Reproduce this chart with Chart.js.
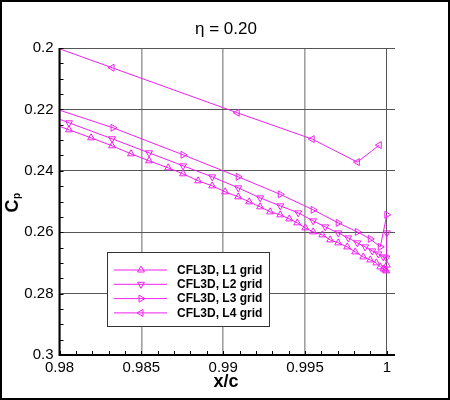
<!DOCTYPE html>
<html>
<head>
<meta charset="utf-8">
<script src="https://cdn.jsdelivr.net/npm/chart.js@4/dist/chart.umd.min.js"></script>
<style>
  html, body { margin: 0; padding: 0; background: #fff; }
  #wrap { width: 450px; height: 400px; position: relative; }
</style>
</head>
<body>
<div id="wrap"><canvas id="cpChart"></canvas></div>
<script>
// Data (x/c, Cp)
const l1X  = [0.97924, 0.98058, 0.98193, 0.98321, 0.98437, 0.98547, 0.98664, 0.98755, 0.98847, 0.98933,
              0.99012, 0.99092, 0.99159, 0.99226, 0.99287, 0.99349, 0.99404, 0.99453, 0.99502, 0.99550,
              0.99606, 0.99654, 0.99703, 0.99758, 0.99807, 0.99856, 0.99899, 0.99936, 0.99960, 0.99979,
              0.99991, 0.99997, 1.0];
const l1Cp = [0.22403, 0.22664, 0.22925, 0.23186, 0.23446, 0.23675, 0.23903, 0.24098, 0.24327, 0.24490,
              0.24685, 0.24848, 0.25011, 0.25174, 0.25337, 0.25435, 0.25566, 0.25696, 0.25859, 0.25990,
              0.26087, 0.26250, 0.26348, 0.26479, 0.26642, 0.26805, 0.26903, 0.27000, 0.27131, 0.27196,
              0.27229, 0.27261, 0.27070];

const l2X  = [0.97765, 0.98058, 0.98321, 0.98547, 0.98755, 0.98933, 0.99092, 0.99226, 0.99349, 0.99459,
              0.99550, 0.99624, 0.99703, 0.99764, 0.99820, 0.99868, 0.99911, 0.99948, 0.99979, 0.99997, 1.0];
const l2Cp = [0.21849, 0.22436, 0.22957, 0.23414, 0.23838, 0.24196, 0.24555, 0.24881, 0.25142, 0.25370,
              0.25631, 0.25827, 0.26022, 0.26185, 0.26348, 0.26479, 0.26609, 0.26707, 0.26805, 0.26837, 0.26022];

const l3X  = [0.97789, 0.98327, 0.98755, 0.99092, 0.99349, 0.99550, 0.99703, 0.99820, 0.99899, 0.99960, 1.0];
const l3Cp = [0.21653, 0.22599, 0.23479, 0.24196, 0.24767, 0.25272, 0.25696, 0.25990, 0.26218, 0.26479, 0.25435];

const l4X  = [0.97550, 0.98321, 0.99086, 0.99544, 0.99820, 0.99954];
const l4Cp = [0.19160, 0.20642, 0.22110, 0.22967, 0.23717, 0.23163];

const seriesLabels = ['CFL3D, L1 grid', 'CFL3D, L2 grid', 'CFL3D, L3 grid', 'CFL3D, L4 grid'];
const xTicks = [0.98, 0.985, 0.99, 0.995, 1];
const yTicks = [0.2, 0.22, 0.24, 0.26, 0.28, 0.3];

const FONT = '"Liberation Sans", Arial, Helvetica, sans-serif';
const PINK = '#f020f0';
const rotations = [0, 180, 90, 270];   // up, down, right, left triangles

function toPoints(xs, ys) {
    return xs.map((x, i) => ({ x: x, y: ys[i] }));
}

function makeSet(label, xs, ys, rot) {
    return {
        label: label,
        data: toPoints(xs, ys),
        borderColor: PINK,
        borderWidth: 1,
        backgroundColor: 'transparent',
        pointStyle: 'triangle',
        pointRotation: rot,
        pointRadius: 4,
        pointBorderWidth: 1,
        pointBorderColor: PINK,
        pointBackgroundColor: 'transparent',
        tension: 0
    };
}

function fmt(v) {
    return String(+(+v).toFixed(4));
}

function triangle(ctx, x, y, r, rotDeg) {
    let rad = rotDeg * Math.PI / 180;
    ctx.beginPath();
    ctx.moveTo(x + Math.sin(rad) * r, y - Math.cos(rad) * r);
    rad += 2 * Math.PI / 3;
    ctx.lineTo(x + Math.sin(rad) * r, y - Math.cos(rad) * r);
    rad += 2 * Math.PI / 3;
    ctx.lineTo(x + Math.sin(rad) * r, y - Math.cos(rad) * r);
    ctx.closePath();
    ctx.stroke();
}

// white background
const bgPlugin = {
    id: 'bg',
    beforeDraw(chart) {
        const ctx = chart.ctx;
        ctx.save();
        ctx.fillStyle = '#fff';
        ctx.fillRect(0, 0, chart.width, chart.height);
        ctx.restore();
    }
};

// axes lines, minor ticks, titles, legend, frame
const decoPlugin = {
    id: 'deco',
    afterDraw(chart) {
        const ctx = chart.ctx;
        const a = chart.chartArea;
        const xs = chart.scales.x, ys = chart.scales.y;
        ctx.save();

        // minor ticks
        ctx.strokeStyle = '#000';
        ctx.lineWidth = 1;
        ctx.beginPath();
        for (let k = 0; k <= 20; k++) {
            const py = Math.round(ys.getPixelForValue(0.2 + k * 0.005)) + 0.5;
            ctx.moveTo(a.left, py);
            ctx.lineTo(a.left + 4, py);
        }
        for (let k = 0; k <= 20; k++) {
            const px = Math.round(xs.getPixelForValue(0.98 + k * 0.001)) + 0.5;
            ctx.moveTo(px, a.bottom);
            ctx.lineTo(px, a.bottom - 4);
        }
        ctx.stroke();

        // axis lines
        ctx.lineWidth = 2;
        ctx.beginPath();
        ctx.moveTo(a.left, a.top);
        ctx.lineTo(a.left, a.bottom);
        ctx.lineTo(a.right, a.bottom);
        ctx.stroke();

        // title
        ctx.fillStyle = '#000';
        ctx.textAlign = 'center';
        ctx.textBaseline = 'middle';
        ctx.font = '17px ' + FONT;
        ctx.fillText('\u03B7 = 0.20', 226, 29);

        // x title
        ctx.font = 'bold 18px ' + FONT;
        ctx.fillText('x/c', 226, 382);

        // y title (C with subscript p), rotated
        ctx.save();
        ctx.translate(13, 206);
        ctx.rotate(-Math.PI / 2);
        ctx.font = 'bold 18px ' + FONT;
        ctx.textAlign = 'center';
        ctx.fillText('C', 0, 0);
        ctx.font = 'bold 10px ' + FONT;
        ctx.textAlign = 'left';
        ctx.fillText('p', 7, 4);
        ctx.restore();

        // legend box
        const bx = 107, by = 252, bw = 162, bh = 74;
        ctx.fillStyle = '#fff';
        ctx.fillRect(bx, by, bw, bh);
        ctx.strokeStyle = '#333';
        ctx.lineWidth = 1;
        ctx.strokeRect(bx + 0.5, by + 0.5, bw, bh);
        seriesLabels.forEach((lab, i) => {
            const ry = 270 + i * 14.3;
            ctx.strokeStyle = PINK;
            ctx.lineWidth = 1;
            ctx.beginPath();
            ctx.moveTo(114, ry);
            ctx.lineTo(167, ry);
            ctx.stroke();
            triangle(ctx, 141, ry, 4, rotations[i]);
            ctx.fillStyle = '#000';
            ctx.font = 'bold 12px ' + FONT;
            ctx.textAlign = 'left';
            ctx.textBaseline = 'middle';
            ctx.fillText(lab, 177, ry + 0.5);
        });

        // outer frame
        ctx.strokeStyle = '#000';
        ctx.lineWidth = 2;
        ctx.strokeRect(1, 1, chart.width - 2, chart.height - 2);
        ctx.restore();
    }
};

const ctx = document.getElementById('cpChart');
new Chart(ctx, {
    type: 'line',
    data: {
        datasets: [
            makeSet(seriesLabels[0], l1X, l1Cp, rotations[0]),
            makeSet(seriesLabels[1], l2X, l2Cp, rotations[1]),
            makeSet(seriesLabels[2], l3X, l3Cp, rotations[2]),
            makeSet(seriesLabels[3], l4X, l4Cp, rotations[3])
        ]
    },
    options: {
        responsive: true,
        maintainAspectRatio: false,
        animation: false,
        devicePixelRatio: 1,
        layout: { padding: { left: 0, right: 55, top: 48, bottom: 0 } },
        plugins: {
            legend: { display: false },
            title: { display: false },
            tooltip: { enabled: false }
        },
        scales: {
            x: {
                type: 'linear',
                min: 0.98,
                max: 1.0005,
                afterBuildTicks: scale => { scale.ticks = xTicks.map(v => ({ value: v })); },
                afterFit: scale => { scale.height = 45; },
                border: { display: false },
                grid: {
                    drawTicks: false,
                    color: c => (c.tick && c.tick.value === 1) ? '#555' : '#a0a0a0',
                    lineWidth: c => (c.tick && c.tick.value === 1) ? 1 : 1.6
                },
                ticks: {
                    color: '#000',
                    padding: 4,
                    maxRotation: 0,
                    font: { family: FONT, size: 15 },
                    callback: v => fmt(v)
                }
            },
            y: {
                type: 'linear',
                reverse: true,
                min: 0.2,
                max: 0.3,
                afterBuildTicks: scale => { scale.ticks = yTicks.map(v => ({ value: v })); },
                afterFit: scale => { scale.width = 59.5; },
                border: { display: false },
                grid: {
                    drawTicks: false,
                    color: '#555',
                    lineWidth: 1
                },
                ticks: {
                    color: '#000',
                    padding: 6,
                    font: { family: FONT, size: 15 },
                    callback: v => fmt(v)
                }
            }
        }
    },
    plugins: [bgPlugin, decoPlugin]
});
</script>
</body>
</html>
